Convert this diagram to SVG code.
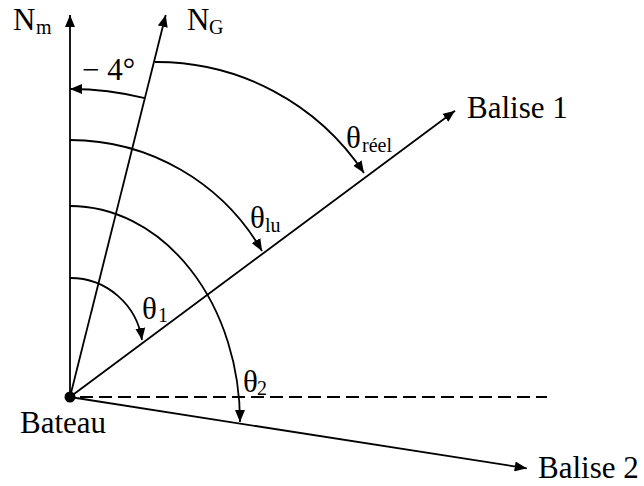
<svg xmlns="http://www.w3.org/2000/svg" width="644" height="486" viewBox="0 0 644 486">
<style>
text{font-family:"Liberation Serif","Times New Roman",serif;fill:#000}
.lbl{font-size:31px}
.sub{font-size:20px}
.ln{stroke:#000;stroke-width:1.8;fill:none}
.dash{stroke:#000;stroke-width:1.8;fill:none;stroke-dasharray:13 6}
</style>
<defs>
<marker id="ah" markerUnits="userSpaceOnUse" markerWidth="12" markerHeight="10" refX="12" refY="5" orient="auto">
<path d="M0,0 L12,5 L0,10 z" fill="#000"/>
</marker>
</defs>
<g id="connectors">
<path class="ln" d="M70,397 L70,15" marker-end="url(#ah)"/>
<path class="ln" d="M70,397 L165.7,15" marker-end="url(#ah)"/>
<path class="ln" d="M70,397 L455,110.7" marker-end="url(#ah)"/>
<path class="ln" d="M70,397 L526.7,468.3" marker-end="url(#ah)"/>
<path class="dash" d="M80,397 L547,397"/>
<path class="ln" d="M144.9,98.2 A308,308 0 0,0 70,89" marker-end="url(#ah)"/>
<path class="ln" d="M155,62 A249,249 0 0,1 364,173" marker-end="url(#ah)"/>
<path class="ln" d="M70,140 A222,222 0 0,1 262,251" marker-end="url(#ah)"/>
<path class="ln" d="M70,206 A170,216 0 0,1 240,422" marker-end="url(#ah)"/>
<path class="ln" d="M70,278 A72.5,72.5 0 0,1 142,340" marker-end="url(#ah)"/>
</g>
<g id="bateau">
<circle cx="70" cy="397" r="5.5" fill="#000"/>
<text class="lbl" x="20" y="433">Bateau</text>
</g>
<g id="nm">
<text class="lbl" x="13" y="30">N</text><text class="sub" x="36" y="34">m</text>
</g>
<g id="ng">
<text class="lbl" x="187" y="30">N</text><text class="sub" x="209" y="34">G</text>
</g>
<g id="balise1">
<text class="lbl" x="467" y="118">Balise 1</text>
</g>
<g id="balise2">
<text class="lbl" x="538" y="478">Balise 2</text>
</g>
<g id="angles">
<text class="lbl" x="82" y="80">− 4°</text>
<text class="lbl" x="346" y="148">θ</text><text class="sub" x="362" y="152">réel</text>
<text class="lbl" x="250" y="228">θ</text><text class="sub" x="265" y="232">lu</text>
<text class="lbl" x="142" y="319">θ</text><text class="sub" x="158" y="322">1</text>
<text class="lbl" x="243" y="392">θ</text><text class="sub" x="257" y="395">2</text>
</g>
</svg>
